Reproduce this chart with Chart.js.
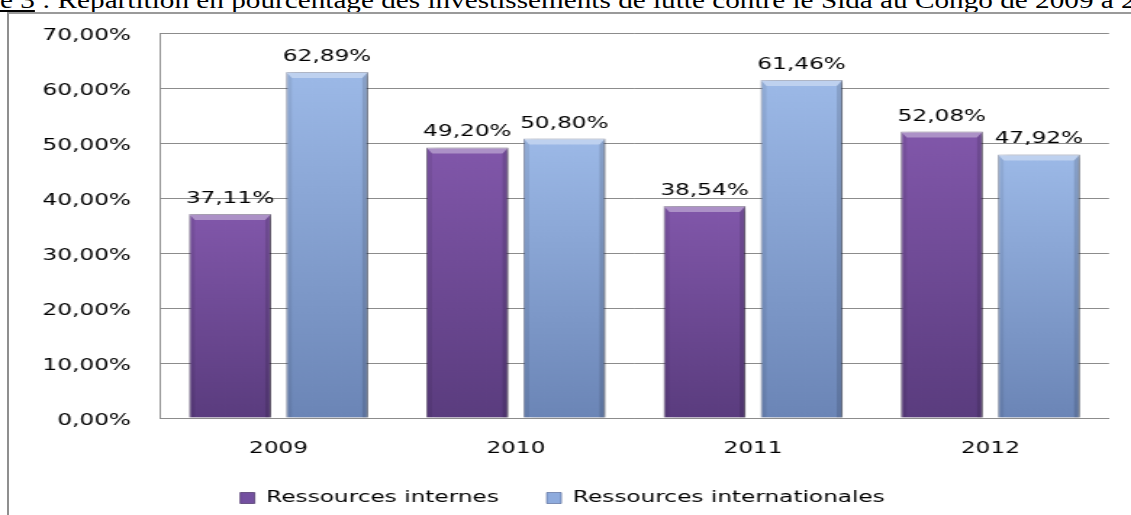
<!DOCTYPE html>
<html>
<head>
<meta charset="utf-8">
<script src="https://cdn.jsdelivr.net/npm/chart.js@4.4.1/dist/chart.umd.min.js"></script>
<style>
  html, body { margin: 0; padding: 0; background: #fff; overflow: hidden; }
  body { width: 1131px; height: 515px; position: relative; }
  #caption {
    position: absolute; left: 0; top: -11px;
    font: 23px 'Liberation Serif', serif; line-height: 23px;
    white-space: nowrap; color: #000;
    transform-origin: 0 0; transform: scaleX(1.27);
  }
  #frame {
    position: absolute; left: 7px; top: 12px; width: 1200px; height: 600px;
    border-top: 2px solid #9a9a9a; border-left: 2px solid #8f8f8f;
  }
  #chart { position: absolute; left: 0; top: 0; }
</style>
</head>
<body>
<div id="caption"><u>e 3</u> : Répartition en pourcentage des investissements de lutte contre le Sida au Congo de 2009 à 2012</div>
<div id="frame"></div>
<!-- drawn at 780px wide, shown stretched to 1131px -->
<canvas id="chart" width="780" height="515" style="width:1131px;height:515px"></canvas>
<script>
const years = ['2009', '2010', '2011', '2012'];
const internes = [37.11, 49.20, 38.54, 52.08];
const internationales = [62.89, 50.80, 61.46, 47.92];
const yTicks = [0, 10, 20, 30, 40, 50, 60, 70];
const seriesNames = ['Ressources internes', 'Ressources internationales'];

const purple = { top: '#8157aa', bottom: '#5a3c7e', flat: '#7450a0', edge: 'rgba(55,30,85,0.6)' };
const blue = { top: '#9cb9e7', bottom: '#6b85b6', flat: '#8eabdd', edge: 'rgba(65,85,135,0.55)' };

const FONT = { family: 'DejaVu Sans', size: 16 };
Chart.defaults.font.family = 'DejaVu Sans';

const pct = v => v.toFixed(2).replace('.', ',') + '%';

// vertical gradient running from the top of each bar down to the axis
function barFill(tone) {
  return c => {
    const y = c.chart.scales.y;
    if (!y || c.type !== 'data' || !c.parsed) return tone.flat;
    const top = y.getPixelForValue(c.parsed.y);
    const base = y.getPixelForValue(0);
    if (!isFinite(top) || !isFinite(base)) return tone.flat;
    const g = c.chart.ctx.createLinearGradient(0, top, 0, base);
    g.addColorStop(0, tone.top);
    g.addColorStop(1, tone.bottom);
    return g;
  };
}

// soft shadow under the bars, bevelled edges and the value above each bar
const barDecor = {
  id: 'barDecor',
  beforeDatasetsDraw(chart) {
    const ctx = chart.ctx;
    ctx.save();
    ctx.shadowColor = 'rgba(0,0,0,0.35)';
    ctx.shadowBlur = 6;
    ctx.shadowOffsetX = 3;
    ctx.shadowOffsetY = 1;
  },
  afterDatasetsDraw(chart) {
    const ctx = chart.ctx;
    ctx.restore();
    ctx.save();
    chart.data.datasets.forEach((ds, di) => {
      chart.getDatasetMeta(di).data.forEach((bar, i) => {
        const x0 = bar.x - bar.width / 2, x1 = bar.x + bar.width / 2;
        const y0 = bar.y, y1 = bar.base;
        const bx = 4, by = 6;

        ctx.fillStyle = 'rgba(255,255,255,0.35)';
        ctx.beginPath();
        ctx.moveTo(x0, y0); ctx.lineTo(x1, y0);
        ctx.lineTo(x1 - bx, y0 + by); ctx.lineTo(x0 + bx, y0 + by);
        ctx.closePath(); ctx.fill();

        ctx.fillStyle = 'rgba(0,0,0,0.13)';
        ctx.beginPath();
        ctx.moveTo(x1, y0); ctx.lineTo(x1, y1);
        ctx.lineTo(x1 - bx, y1); ctx.lineTo(x1 - bx, y0 + by);
        ctx.closePath(); ctx.fill();

        ctx.fillStyle = 'rgba(0,0,0,0.07)';
        ctx.beginPath();
        ctx.moveTo(x0, y0); ctx.lineTo(x0 + bx, y0 + by);
        ctx.lineTo(x0 + bx, y1); ctx.lineTo(x0, y1);
        ctx.closePath(); ctx.fill();

        ctx.fillStyle = '#000';
        ctx.font = '16px "DejaVu Sans"';
        ctx.textAlign = 'center';
        ctx.textBaseline = 'alphabetic';
        ctx.fillText(pct(ds.data[i]), bar.x, y0 - 11);
      });
    });
    ctx.restore();
  }
};

new Chart(document.getElementById('chart'), {
  type: 'bar',
  data: {
    labels: years,
    datasets: [
      { label: seriesNames[0], data: internes, backgroundColor: barFill(purple),
        borderColor: purple.edge, borderWidth: 1, borderSkipped: 'bottom' },
      { label: seriesNames[1], data: internationales, backgroundColor: barFill(blue),
        borderColor: blue.edge, borderWidth: 1, borderSkipped: 'bottom' }
    ]
  },
  options: {
    responsive: false,
    animation: false,
    devicePixelRatio: 1,
    layout: { padding: { left: 11, right: 15.2, top: 33, bottom: -1 } },
    datasets: { bar: { categoryPercentage: 0.818, barPercentage: 0.845 } },
    scales: {
      x: {
        grid: { display: false, drawTicks: false },
        border: { color: '#8c8c8c' },
        ticks: { font: { family: 'DejaVu Sans', size: 16, lineHeight: 1 }, color: '#000', padding: 23 },
        afterFit: s => { s.height = 39; }
      },
      y: {
        min: 0,
        max: 70,
        afterBuildTicks: s => { s.ticks = yTicks.map(v => ({ value: v })); },
        grid: { color: '#8c8c8c', drawTicks: false },
        border: { color: '#8c8c8c' },
        ticks: { font: FONT, color: '#000', padding: 20, labelOffset: 3, callback: v => pct(v) },
        afterFit: s => { s.width = 99.3; }
      }
    },
    plugins: {
      legend: {
        position: 'bottom',
        labels: {
          font: FONT,
          color: '#000',
          boxWidth: 10,
          boxHeight: 11,
          padding: 33,
          generateLabels: chart => {
            const items = Chart.defaults.plugins.legend.labels.generateLabels(chart);
            const tones = [purple, blue];
            items.forEach((it, i) => {
              it.fillStyle = tones[i].flat;
              it.strokeStyle = tones[i].edge;
              it.lineWidth = 1;
            });
            return items;
          }
        }
      },
      tooltip: { enabled: false }
    }
  },
  plugins: [barDecor]
});
</script>
</body>
</html>
